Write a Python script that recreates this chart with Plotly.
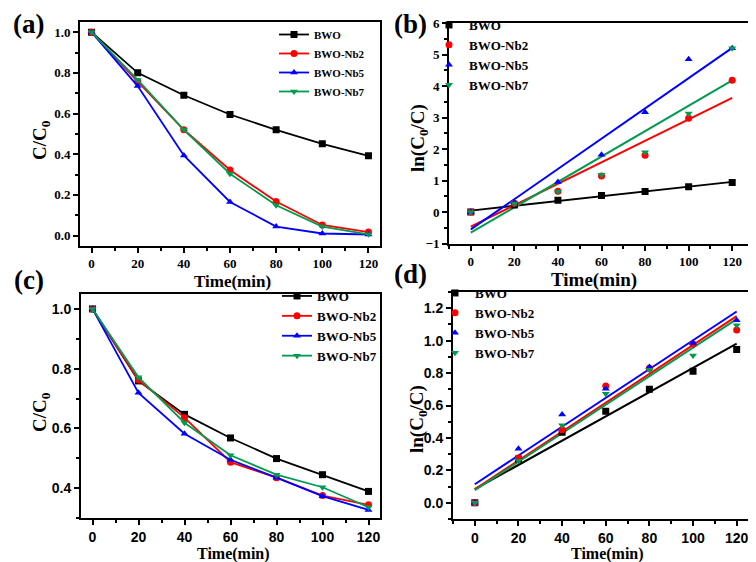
import numpy as np
import plotly.graph_objects as go

# ---------------- data ----------------
time_min = [0, 20, 40, 60, 80, 100, 120]
series_names = ["BWO", "BWO-Nb2", "BWO-Nb5", "BWO-Nb7"]

# (a) C/C0
a_bwo = [1.0, 0.80, 0.69, 0.595, 0.52, 0.451, 0.392]
a_nb2 = [1.0, 0.757, 0.52, 0.322, 0.167, 0.052, 0.017]
a_nb5 = [1.0, 0.735, 0.394, 0.165, 0.044, 0.010, 0.005]
a_nb7 = [1.0, 0.765, 0.52, 0.304, 0.149, 0.044, 0.006]

# (b) ln(C0/C)
b_bwo = [0.0, 0.22, 0.37, 0.52, 0.65, 0.80, 0.94]
b_nb2 = [0.0, 0.28, 0.66, 1.14, 1.80, 2.98, 4.18]
b_nb5 = [0.0, 0.31, 0.95, 1.82, 3.17, 4.85, 5.20]
b_nb7 = [0.0, 0.27, 0.65, 1.18, 1.90, 3.13, 5.20]

# (c) C/C0
c_bwo = [1.0, 0.759, 0.647, 0.568, 0.499, 0.445, 0.389]
c_nb2 = [1.0, 0.762, 0.636, 0.487, 0.435, 0.375, 0.344]
c_nb5 = [1.0, 0.719, 0.582, 0.495, 0.435, 0.373, 0.327]
c_nb7 = [1.0, 0.771, 0.619, 0.510, 0.445, 0.403, 0.336]

# (d) ln(C0/C)
d_bwo = [0.0, 0.27, 0.435, 0.565, 0.70, 0.812, 0.946]
d_nb2 = [0.0, 0.276, 0.45, 0.72, 0.83, 0.98, 1.066]
d_nb5 = [0.0, 0.334, 0.544, 0.703, 0.837, 0.985, 1.126]
d_nb7 = [0.0, 0.26, 0.478, 0.672, 0.82, 0.909, 1.095]

colors = ["#000000", "#ff0000", "#0000ff", "#009b4f"]
symbols = ["square", "circle", "triangle-up", "triangle-down"]

SERIF = "Liberation Serif"
SANS = "Liberation Sans"

fig = go.Figure()

def add_lines(series, xa, ya, leg):
    for name, ys, col, sym in zip(series_names, series, colors, symbols):
        fig.add_trace(go.Scatter(
            x=time_min, y=ys, mode="lines+markers", name=name,
            line=dict(color=col, width=1.8),
            marker=dict(color=col, symbol=sym, size=7),
            xaxis=xa, yaxis=ya, legend=leg))

def add_fits(series, xa, ya, leg):
    for name, ys, col, sym in zip(series_names, series, colors, symbols):
        k, b0 = np.polyfit(time_min, ys, 1)
        xs = np.array([time_min[0], time_min[-1]])
        fig.add_trace(go.Scatter(
            x=xs, y=k * xs + b0, mode="lines", showlegend=False,
            line=dict(color=col, width=2), xaxis=xa, yaxis=ya, hoverinfo="skip"))
    for name, ys, col, sym in zip(series_names, series, colors, symbols):
        fig.add_trace(go.Scatter(
            x=time_min, y=ys, mode="markers", name=name,
            marker=dict(color=col, symbol=sym, size=7),
            xaxis=xa, yaxis=ya, legend=leg))

add_lines([a_bwo, a_nb2, a_nb5, a_nb7], "x", "y", "legend")
add_fits([b_bwo, b_nb2, b_nb5, b_nb7], "x2", "y2", "legend2")
add_lines([c_bwo, c_nb2, c_nb5, c_nb7], "x3", "y3", "legend3")
add_fits([d_bwo, d_nb2, d_nb5, d_nb7], "x4", "y4", "legend4")

W, H = 756, 562
def px(xp): return xp / W
def py(yp): return 1 - yp / H

def xaxis(dom, rng, anchor, tfont, tsize):
    return dict(domain=dom, range=rng, anchor=anchor, dtick=20, tick0=0,
                showline=True, linecolor="black", linewidth=2, mirror=True,
                ticks="outside", ticklen=5, tickwidth=2, tickcolor="black",
                minor=dict(ticks="outside", ticklen=3, tickwidth=1.5, dtick=10, tickcolor="black"),
                showgrid=False, zeroline=False, automargin=False,
                tickfont=dict(family=tfont, size=tsize, color="black", weight="bold"))

def yaxis(dom, rng, anchor, dt, fmt, tfont, tsize):
    return dict(domain=dom, range=rng, anchor=anchor, dtick=dt, tick0=0, tickformat=fmt,
                showline=True, linecolor="black", linewidth=2, mirror=True,
                ticks="outside", ticklen=5, tickwidth=2, tickcolor="black",
                minor=dict(ticks="outside", ticklen=3, tickwidth=1.5, dtick=dt / 2, tickcolor="black"),
                showgrid=False, zeroline=False, automargin=False,
                tickfont=dict(family=tfont, size=tsize, color="black", weight="bold"))

def legend(x, y, fs):
    return dict(x=x, y=y, xanchor="left", yanchor="top", bgcolor="rgba(0,0,0,0)",
                borderwidth=0, itemwidth=30, tracegroupgap=0,
                font=dict(family=SERIF, size=fs, color="black", weight="bold"))

fig.update_layout(
    width=W, height=H, margin=dict(l=0, r=0, t=0, b=0),
    paper_bgcolor="white", plot_bgcolor="white",
    xaxis=xaxis([px(72), px(372)], [-5, 125], "y", SERIF, 13),
    yaxis=yaxis([py(237.7), py(14)], [-0.05, 1.05], "x", 0.2, ".1f", SERIF, 13),
    xaxis2=xaxis([px(441), px(746)], [-10, 130], "y2", SERIF, 13),
    yaxis2=yaxis([py(235.5), py(15)], [-1, 6], "x2", 1, "d", SERIF, 13),
    xaxis3=xaxis([px(73), px(372)], [-5, 125], "y3", SANS, 14),
    yaxis3=yaxis([py(510), py(286)], [0.3, 1.05], "x3", 0.2, ".1f", SANS, 14),
    xaxis4=xaxis([px(445), px(750.5)], [-10, 130], "y4", SANS, 14),
    yaxis4=yaxis([py(511), py(284)], [-0.1, 1.3], "x4", 0.2, ".1f", SANS, 14),
    legend=legend(px(266), py(12), 11),
    legend2=legend(px(421), py(2), 13),
    legend3=legend(px(269), py(273), 13),
    legend4=legend(px(427), py(270), 13),
    showlegend=True,
)

# axis titles
x_titles = [("Time(min)", 224, 273, 17), ("Time(min)", 586, 272, 19),
            ("Time(min)", 225, 546, 16), ("Time(min)", 599, 546, 16)]
for txt, tx, ty, fs in x_titles:
    fig.add_annotation(text=txt, x=px(tx), y=py(ty), xref="paper", yref="paper",
                       showarrow=False, xanchor="center", yanchor="middle", borderpad=0,
                       font=dict(family=SERIF, size=fs, color="black", weight="bold"))

y_titles = [("C/C<sub>0</sub>", 33, 132), ("ln(C<sub>0</sub>/C)", 411, 130),
            ("C/C<sub>0</sub>", 33, 404), ("ln(C<sub>0</sub>/C)", 410, 411)]
for txt, tx, ty in y_titles:
    fig.add_annotation(text=txt, x=px(tx), y=py(ty), xref="paper", yref="paper",
                       showarrow=False, xanchor="center", yanchor="middle", textangle=-90,
                       font=dict(family=SERIF, size=19, color="black", weight="bold"))

panel_labels = ["(a)", "(b)", "(c)", "(d)"]
label_pos = [(20, 16), (403, 16), (21, 272), (403, 266)]
for txt, (lx, ly) in zip(panel_labels, label_pos):
    fig.add_annotation(text=txt, x=px(lx), y=py(ly), xref="paper", yref="paper",
                       showarrow=False, xanchor="center", yanchor="middle",
                       font=dict(family=SERIF, size=27, color="black", weight="bold"))

fig.write_html("out.html")
